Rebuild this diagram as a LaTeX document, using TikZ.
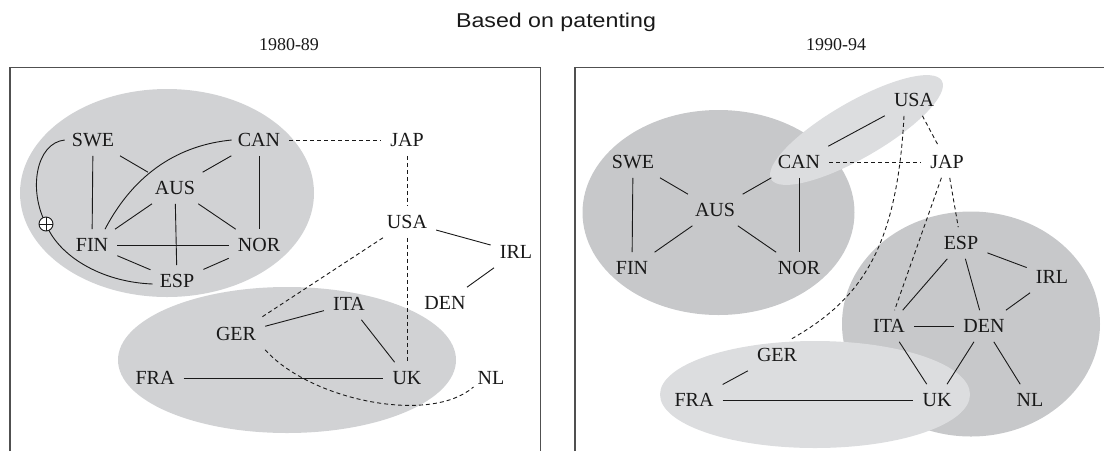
\documentclass[tikz,border=0pt]{standalone}
\usepackage{fontspec}
\usepackage{graphicx}
\setmainfont{Liberation Serif}
\newfontfamily\headfont{Liberation Sans}
\usetikzlibrary{calc}
\definecolor{clusterL}{RGB}{209,210,212}
\definecolor{clusterD}{RGB}{199,200,202}
\definecolor{clusterP}{RGB}{220,221,223}
\definecolor{ink}{RGB}{25,25,25}
\definecolor{rule}{RGB}{80,80,80}
\begin{document}
\begin{tikzpicture}[x=1pt,y=-1pt,
  country/.style={font=\fontsize{20}{20}\selectfont, text=ink, text height=13.2pt, text depth=0pt, inner xsep=9pt, inner ysep=9pt},
  link/.style={line width=0.9pt, draw=ink},
  dlink/.style={link, dash pattern=on 4pt off 3pt},
  panel/.style={draw=rule, line width=1.3pt},
  oplus/.style={circle, draw=ink, line width=0.9pt, fill=white, minimum size=14pt, inner sep=0pt,
    path picture={\draw[ink, line width=0.9pt] (path picture bounding box.north) -- (path picture bounding box.south)
      (path picture bounding box.west) -- (path picture bounding box.east);}},
  period/.style={font=\fontsize{18}{18}\selectfont, text=ink, inner sep=0pt}
]
\useasboundingbox (0,0) rectangle (1104,451);

% headings
\node[anchor=base, inner sep=0pt, text=ink] (title) at (556,27.7)
  {\headfont\fontsize{20}{20}\selectfont\scalebox{1.16}[1]{Based on patenting}};
\node[period] (p1) at (289,45) {1980-89};
\node[period] (p2) at (836,45) {1990-94};

% panel frames (open at the bottom)
\draw[panel] (10,451) -- (10,67.3) -- (540.5,67.3) -- (540.5,451);
\draw[panel] (575,451) -- (575,67.3) -- (1104,67.3);

% ---------- 1980-89 ----------
\fill[clusterL] (167,193) ellipse [x radius=147, y radius=104];
\fill[clusterL] (287,360) ellipse [x radius=169, y radius=73];

\node[country] (lSWE) at (93,140) {SWE};
\node[country] (lCAN) at (259,140) {CAN};
\node[country] (lJAP) at (407,140) {JAP};
\node[country] (lAUS) at (175,188) {AUS};
\node[country] (lUSA) at (407,222) {USA};
\node[country] (lFIN) at (92,245) {FIN};
\node[country] (lNOR) at (259,245) {NOR};
\node[country] (lIRL) at (516,252) {IRL};
\node[country] (lESP) at (177,281) {ESP};
\node[country] (lDEN) at (445,303) {DEN};
\node[country] (lITA) at (349,304) {ITA};
\node[country] (lGER) at (236,334) {GER};
\node[country] (lFRA) at (155,378) {FRA};
\node[country] (lUK) at (407,378) {UK};
\node[country] (lNL) at (491,378) {NL};

\draw[link] (lSWE) -- (lFIN);
\draw[link] (lSWE) -- (lAUS);
\draw[link] (lCAN) -- (lAUS);
\draw[link] (lCAN) -- (lNOR);
\draw[link] (lAUS) -- (lFIN);
\draw[link] (lAUS) -- (lNOR);
\draw[link] (lAUS) -- (lESP);
\draw[link] (lFIN) -- (lNOR);
\draw[link] (lFIN) -- (lESP);
\draw[link] (lNOR) -- (lESP);
\draw[link] ($(lFIN.north)+(13,0)$) .. controls (135,172) and (180,145) .. ($(lCAN.west)+(3,0)$);
\coordinate (knot) at (46,224);
\draw[link] ($(lSWE.west)+(2,0)$) .. controls (36,143) and (28,190) .. (knot)
  .. controls (58,255) and (100,282) .. ($(lESP.west)+(2,3)$);
\node[oplus] (plus) at (knot) {};
\draw[link] (lUSA) -- (lIRL);
\draw[link] (lIRL) -- (lDEN);
\draw[link] (lGER) -- (lITA);
\draw[link] (lITA) -- (lUK);
\draw[link] (lFRA) -- (lUK);

\draw[dlink] (lCAN) -- (lJAP);
\draw[dlink] (lJAP) -- (lUSA);
\draw[dlink] (lUSA) -- (lGER);
\draw[dlink] (lUSA) -- (lUK);
\draw[dlink] (lGER.south east) .. controls (310,400) and (430,425) .. ($(lNL.west)+(5,9)$);

% ---------- 1990-94 ----------
\fill[clusterD] (718.5,212.5) ellipse [x radius=136, y radius=102.5];
\fill[clusterD] (971,324) ellipse [x radius=129, y radius=112.5];
\fill[clusterP, rotate around={30:(856.5,130)}] (856.5,130) ellipse [x radius=98.5, y radius=28];
\fill[clusterP] (815,394.5) ellipse [x radius=155, y radius=53.5];

\node[country] (rUSA) at (914,100) {USA};
\node[country] (rSWE) at (633,162) {SWE};
\node[country] (rCAN) at (799,162) {CAN};
\node[country] (rJAP) at (947,162) {JAP};
\node[country] (rAUS) at (715,210) {AUS};
\node[country] (rFIN) at (632,268) {FIN};
\node[country] (rNOR) at (799,268) {NOR};
\node[country] (rESP) at (961,243) {ESP};
\node[country] (rIRL) at (1052,277) {IRL};
\node[country] (rITA) at (889,326) {ITA};
\node[country] (rDEN) at (984,326) {DEN};
\node[country] (rGER) at (777,355) {GER};
\node[country] (rFRA) at (694,400) {FRA};
\node[country] (rUK) at (937,400) {UK};
\node[country] (rNL) at (1030,400) {NL};

\draw[link] (rUSA) -- (rCAN);
\draw[link] (rSWE) -- (rFIN);
\draw[link] (rSWE) -- (rAUS);
\draw[link] (rCAN) -- (rAUS);
\draw[link] (rCAN) -- (rNOR);
\draw[link] (rAUS) -- (rFIN);
\draw[link] (rAUS) -- (rNOR);
\draw[link] (rESP) -- (rITA);
\draw[link] (rESP) -- (rDEN);
\draw[link] (rESP) -- (rIRL);
\draw[link] (rIRL) -- (rDEN);
\draw[link] (rITA) -- (rDEN);
\draw[link] (rITA) -- (rUK);
\draw[link] (rDEN) -- (rUK);
\draw[link] (rDEN) -- (rNL);
\draw[link] (rGER) -- (rFRA);
\draw[link] (rFRA) -- (rUK);

\draw[dlink] (rCAN) -- (rJAP);
\draw[dlink] (rUSA) -- (rJAP);
\draw[dlink] (rJAP) -- (rITA);
\draw[dlink] (rJAP) -- (rESP);
\draw[dlink] ($(rUSA.south)+(-10,0)$) .. controls (897,250) and (860,300) .. ($(rGER.north)+(14,0)$);
\end{tikzpicture}
\end{document}
